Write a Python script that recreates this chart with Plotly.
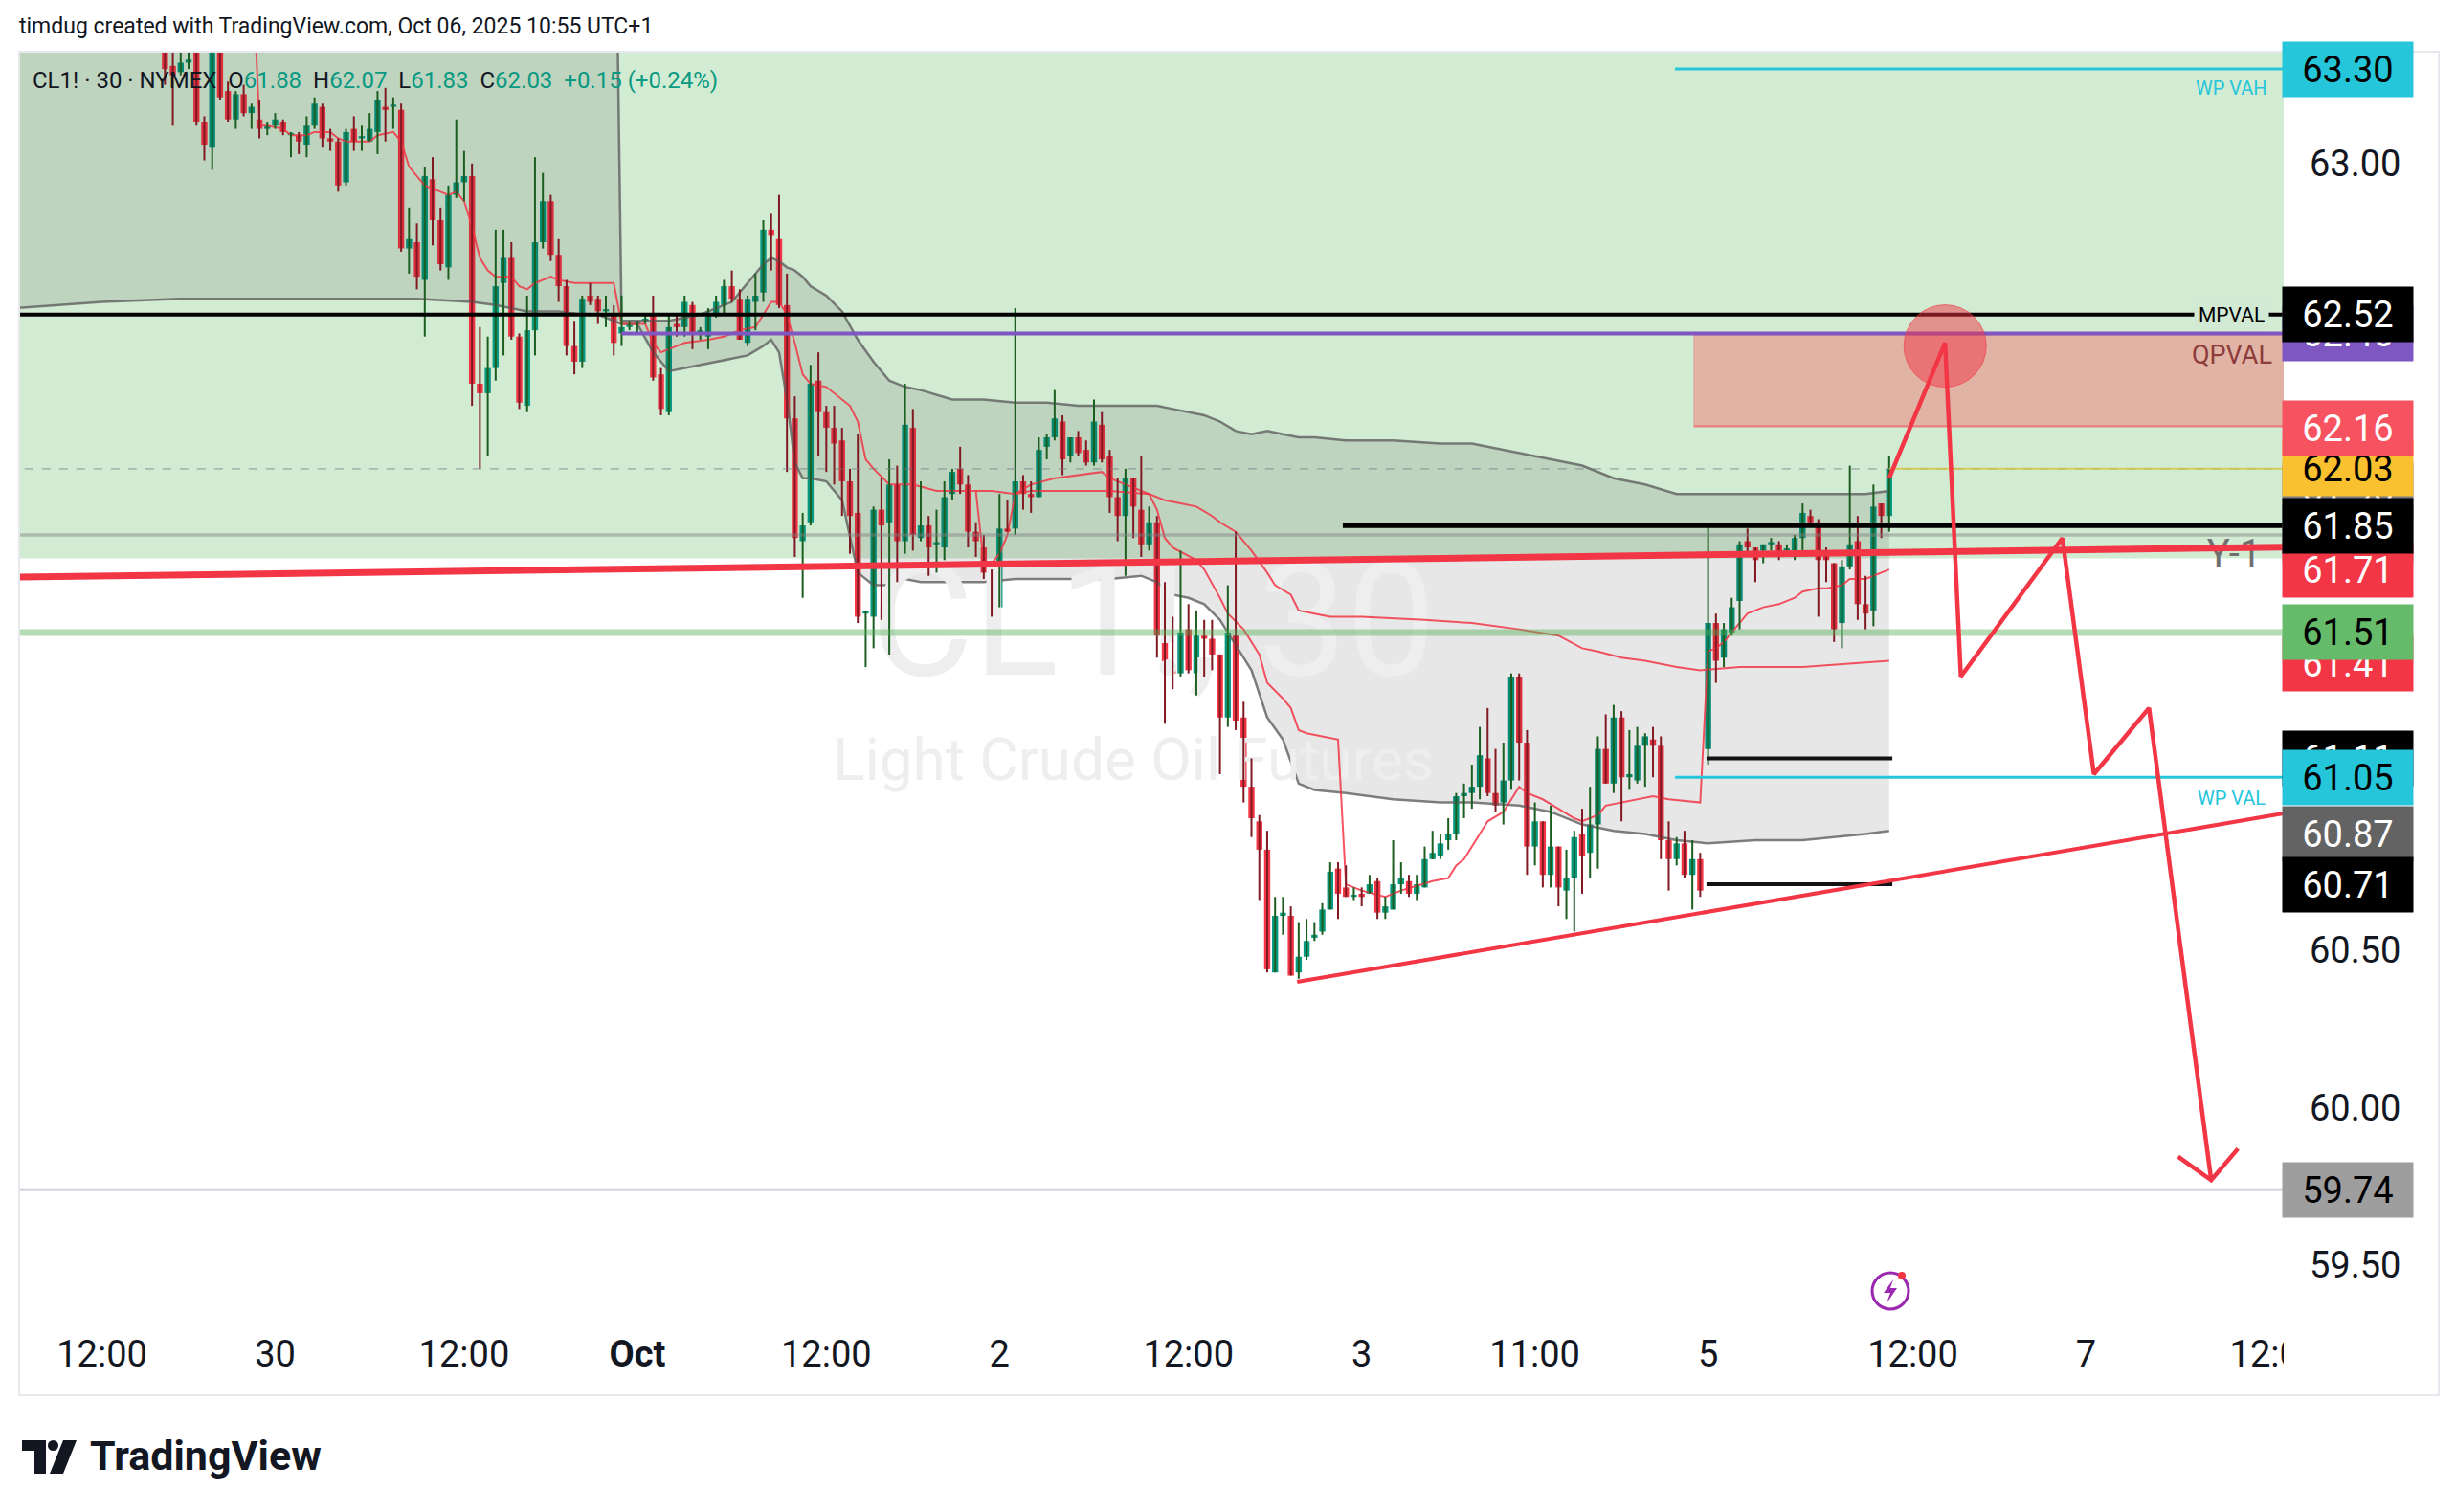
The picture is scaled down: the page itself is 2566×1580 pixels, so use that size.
import plotly.graph_objects as go

# ---- 30 min bars of CL1! (x = bar index, 0 = Sep 29 12:00 UTC+1) ----
first_bar = 8
opens = [63.50, 63.31, 63.29, 63.32, 63.40, 63.13, 63.05, 63.40, 63.23, 63.14,
         63.22, 63.16, 63.14, 63.11, 63.12, 63.13, 63.09, 63.09, 63.06, 63.12,
         63.18, 63.08, 63.07, 62.94, 63.11, 63.08, 63.07, 63.10, 63.18, 63.18,
         63.17, 62.73, 62.75, 62.63, 62.95, 62.82, 62.67, 62.90, 62.94, 62.96,
         62.30, 62.27, 62.35, 62.62, 62.70, 62.45, 62.23, 62.47, 62.75, 62.88,
         62.71, 62.61, 62.42, 62.37, 62.58, 62.57, 62.53, 62.52, 62.46, 62.48,
         62.49, 62.50, 62.52, 62.33, 62.21, 62.49, 62.48, 62.55, 62.46, 62.45,
         62.52, 62.55, 62.61, 62.57, 62.43, 62.56, 62.59, 62.79, 62.76, 62.55,
         62.19, 61.80, 61.86, 62.31, 62.21, 62.16, 62.12, 61.99, 61.89, 61.57,
         61.56, 61.90, 61.86, 61.98, 61.80, 62.16, 61.81, 61.85, 61.79, 61.78,
         61.95, 62.03, 61.98, 61.83, 61.78, 61.70, 61.59, 61.84, 61.84, 61.99,
         61.95, 61.94, 62.10, 62.13, 62.18, 62.07, 62.13, 62.09, 62.05, 62.17,
         62.07, 61.94, 61.88, 62.00, 61.90, 61.79, 61.86, 61.49, 61.39, 61.38,
         61.52, 61.38, 61.50, 61.49, 61.44, 61.24, 61.50, 61.24, 61.02, 60.91,
         60.82, 60.43, 60.61, 60.61, 60.43, 60.48, 60.54, 60.56, 60.63, 60.76,
         60.70, 60.67, 60.68, 60.68, 60.72, 60.62, 60.63, 60.71, 60.72, 60.68,
         60.70, 60.79, 60.80, 60.85, 60.87, 60.99, 61.00, 61.02, 61.11, 61.00,
         60.97, 61.04, 61.37, 61.16, 60.83, 60.91, 60.74, 60.83, 60.69, 60.73,
         60.87, 60.81, 60.90, 61.14, 61.03, 61.24, 61.05, 61.04, 61.15, 61.17,
         61.15, 60.85, 60.79, 60.84, 60.74, 60.79, 61.14, 61.54, 61.43, 61.51,
         61.61, 61.80, 61.78, 61.77, 61.79, 61.79, 61.77, 61.77, 61.81, 61.88,
         61.86, 61.76, 61.73, 61.54, 61.72, 61.80, 61.60, 61.58, 61.92, 61.88]
highs = [63.60, 63.45, 63.36, 63.36, 63.50, 63.15, 63.45, 63.48, 63.26, 63.23,
         63.25, 63.19, 63.20, 63.13, 63.16, 63.14, 63.10, 63.10, 63.15, 63.21,
         63.19, 63.11, 63.08, 63.11, 63.15, 63.12, 63.16, 63.23, 63.24, 63.21,
         63.19, 62.86, 62.81, 62.99, 63.02, 62.86, 62.93, 63.14, 63.04, 63.00,
         62.48, 62.45, 62.79, 62.79, 62.75, 62.46, 62.58, 63.02, 62.97, 62.90,
         62.76, 62.63, 62.50, 62.58, 62.62, 62.58, 62.58, 62.55, 62.58, 62.50,
         62.50, 62.52, 62.58, 62.35, 62.52, 62.52, 62.58, 62.56, 62.48, 62.54,
         62.58, 62.63, 62.66, 62.60, 62.58, 62.65, 62.82, 62.84, 62.90, 62.65,
         62.26, 61.89, 62.36, 62.40, 62.23, 62.23, 62.16, 62.03, 62.14, 61.58,
         61.91, 62.00, 62.06, 62.04, 62.30, 62.22, 61.99, 61.88, 61.90, 61.99,
         62.03, 62.10, 62.01, 61.86, 61.82, 61.71, 61.95, 61.93, 62.54, 62.01,
         61.99, 62.13, 62.14, 62.28, 62.20, 62.13, 62.15, 62.12, 62.25, 62.21,
         62.09, 62.00, 62.03, 62.00, 62.07, 61.91, 61.88, 61.67, 61.56, 61.77,
         61.60, 61.58, 61.55, 61.55, 61.44, 61.66, 61.83, 61.29, 61.11, 60.93,
         60.88, 60.67, 60.67, 60.64, 60.59, 60.60, 60.59, 60.65, 60.78, 60.78,
         60.77, 60.70, 60.70, 60.74, 60.73, 60.67, 60.85, 60.78, 60.74, 60.74,
         60.83, 60.88, 60.87, 60.92, 61.00, 61.03, 61.09, 61.21, 61.27, 61.14,
         61.16, 61.38, 61.38, 61.20, 60.97, 60.91, 60.96, 60.83, 60.82, 60.88,
         60.95, 61.02, 61.18, 61.25, 61.28, 61.26, 61.20, 61.21, 61.19, 61.21,
         61.18, 60.91, 60.86, 60.88, 60.85, 60.81, 61.85, 61.57, 61.54, 61.62,
         61.80, 61.84, 61.78, 61.79, 61.81, 61.80, 61.79, 61.82, 61.92, 61.90,
         61.87, 61.78, 61.73, 61.74, 62.04, 61.88, 61.69, 61.98, 61.92, 62.07]
lows = [63.25, 63.12, 63.28, 63.30, 63.12, 63.01, 62.98, 63.20, 63.13, 63.11,
        63.15, 63.11, 63.08, 63.09, 63.11, 63.09, 63.02, 63.03, 63.02, 63.11,
        63.05, 63.04, 62.91, 62.93, 63.04, 63.04, 63.07, 63.03, 63.07, 63.11,
        62.72, 62.65, 62.60, 62.45, 62.74, 62.66, 62.63, 62.89, 62.88, 62.23,
        62.03, 62.07, 62.31, 62.39, 62.44, 62.22, 62.21, 62.39, 62.73, 62.69,
        62.56, 62.39, 62.33, 62.35, 62.55, 62.49, 62.48, 62.39, 62.42, 62.47,
        62.46, 62.49, 62.31, 62.20, 62.20, 62.45, 62.45, 62.41, 62.44, 62.41,
        62.51, 62.52, 62.56, 62.44, 62.42, 62.47, 62.56, 62.66, 62.54, 62.02,
        61.75, 61.62, 61.85, 62.07, 62.02, 61.98, 61.88, 61.76, 61.54, 61.40,
        61.46, 61.55, 61.44, 61.67, 61.76, 61.77, 61.80, 61.69, 61.70, 61.74,
        61.93, 61.95, 61.78, 61.75, 61.68, 61.56, 61.59, 61.83, 61.82, 61.90,
        61.89, 61.94, 62.06, 62.12, 62.01, 62.05, 62.07, 62.04, 62.04, 62.05,
        61.89, 61.80, 61.69, 61.81, 61.75, 61.77, 61.43, 61.22, 61.33, 61.37,
        61.38, 61.31, 61.37, 61.39, 61.06, 61.21, 61.20, 60.97, 60.86, 60.66,
        60.43, 60.43, 60.55, 60.42, 60.41, 60.47, 60.53, 60.55, 60.63, 60.60,
        60.67, 60.66, 60.64, 60.68, 60.60, 60.60, 60.63, 60.68, 60.67, 60.66,
        60.70, 60.79, 60.79, 60.82, 60.85, 60.92, 60.95, 60.98, 60.99, 60.94,
        60.90, 61.01, 61.04, 60.74, 60.77, 60.70, 60.70, 60.64, 60.60, 60.56,
        60.68, 60.73, 60.76, 61.03, 61.00, 60.91, 61.01, 61.03, 61.02, 61.05,
        60.79, 60.69, 60.77, 60.73, 60.63, 60.67, 61.09, 61.35, 61.40, 61.50,
        61.52, 61.75, 61.67, 61.73, 61.77, 61.74, 61.76, 61.74, 61.77, 61.85,
        61.56, 61.67, 61.48, 61.46, 61.71, 61.55, 61.52, 61.53, 61.81, 61.83]
closes = [63.30, 63.28, 63.32, 63.33, 63.13, 63.06, 63.40, 63.21, 63.14, 63.22,
          63.16, 63.18, 63.11, 63.12, 63.14, 63.10, 63.09, 63.07, 63.12, 63.19,
          63.08, 63.07, 62.93, 63.10, 63.07, 63.08, 63.11, 63.20, 63.17, 63.18,
          62.73, 62.76, 62.64, 62.96, 62.82, 62.68, 62.90, 62.94, 62.96, 62.30,
          62.27, 62.35, 62.61, 62.70, 62.45, 62.24, 62.47, 62.75, 62.88, 62.71,
          62.61, 62.42, 62.37, 62.57, 62.56, 62.53, 62.53, 62.43, 62.48, 62.49,
          62.49, 62.50, 62.32, 62.22, 62.48, 62.48, 62.56, 62.46, 62.47, 62.52,
          62.56, 62.61, 62.57, 62.44, 62.57, 62.58, 62.79, 62.77, 62.55, 62.19,
          61.81, 61.85, 62.30, 62.21, 62.16, 62.11, 61.99, 61.88, 61.56, 61.57,
          61.90, 61.85, 61.98, 61.80, 62.17, 61.82, 61.85, 61.78, 61.79, 61.94,
          62.02, 61.98, 61.83, 61.80, 61.70, 61.58, 61.84, 61.83, 61.99, 61.95,
          61.94, 62.09, 62.13, 62.19, 62.06, 62.13, 62.08, 62.05, 62.18, 62.06,
          61.94, 61.88, 62.00, 61.91, 61.79, 61.86, 61.50, 61.39, 61.38, 61.51,
          61.39, 61.50, 61.49, 61.44, 61.24, 61.51, 61.23, 61.02, 60.92, 60.82,
          60.44, 60.61, 60.62, 60.42, 60.48, 60.53, 60.55, 60.63, 60.75, 60.68,
          60.67, 60.67, 60.67, 60.71, 60.62, 60.64, 60.71, 60.73, 60.68, 60.71,
          60.79, 60.81, 60.84, 60.87, 60.99, 61.00, 61.02, 61.12, 61.00, 60.96,
          61.04, 61.37, 61.16, 60.83, 60.91, 60.74, 60.83, 60.70, 60.73, 60.86,
          60.80, 60.90, 61.14, 61.03, 61.24, 61.05, 61.06, 61.15, 61.18, 61.15,
          60.85, 60.79, 60.84, 60.74, 60.79, 60.69, 61.54, 61.42, 61.52, 61.59,
          61.79, 61.78, 61.74, 61.79, 61.79, 61.75, 61.77, 61.81, 61.89, 61.86,
          61.74, 61.74, 61.52, 61.72, 61.79, 61.60, 61.57, 61.91, 61.88, 62.03]

# time axis
time_ticks = [0, 22, 46, 68, 92, 114, 138, 160, 182, 204, 230, 252, 276]
time_labels = ['12:00', '30', '12:00', '<b>Oct</b>', '12:00', '2', '12:00', '3',
               '11:00', '5', '12:00', '7', '12:00']
price_ticks = [59.5, 60.0, 60.5, 63.0]

# monthly VWAP bands (Sep then Oct anchor)
band_x = [-11, 0, 10, 20, 30, 40, 47, 50, 54, 58, 61, 63, 65,
          66, 68, 70, 72, 74, 76, 78, 80, 82, 84, 85, 86, 87, 88, 89, 90, 92, 94,
          96, 98, 100, 102, 104, 108, 112, 116, 120, 124, 128, 132, 134, 136, 138,
          140, 142, 144, 146, 148, 150, 152, 154, 158, 164, 170, 174, 180, 184,
          188, 192, 196, 200, 204, 210, 216, 220, 224, 227]
band_upper = [64.30, 64.30, 64.30, 64.30, 64.30, 64.30, 64.30, 64.30, 64.30, 64.30,
              64.30, 64.30, 64.30,
              62.50, 62.50, 62.50, 62.50, 62.51, 62.52, 62.54, 62.56, 62.62, 62.68,
              62.70, 62.69, 62.67, 62.66, 62.64, 62.61, 62.58, 62.53, 62.44, 62.37,
              62.31, 62.29, 62.28, 62.25, 62.25, 62.24, 62.24, 62.23, 62.23, 62.23,
              62.23, 62.22, 62.21, 62.20, 62.18, 62.15, 62.14, 62.15, 62.14, 62.13,
              62.13, 62.12, 62.12, 62.11, 62.11, 62.08, 62.06, 62.04, 62.00, 61.98,
              61.95, 61.95, 61.95, 61.95, 61.95, 61.95, 61.96]
band_lower = [62.54, 62.56, 62.57, 62.57, 62.57, 62.57, 62.56, 62.55, 62.53, 62.53,
              62.52, 62.52, 62.50,
              62.49, 62.49, 62.40, 62.34, 62.35, 62.36, 62.37, 62.38, 62.39, 62.42,
              62.44, 62.40, 62.25, 62.05, 62.00, 62.00, 61.99, 61.93, 61.70, 61.66,
              61.66, 61.68, 61.67, 61.67, 61.67, 61.68, 61.68, 61.68, 61.68, 61.69,
              61.67, 61.63, 61.62, 61.60, 61.55, 61.47, 61.39, 61.24, 61.17, 61.03,
              61.01, 61.00, 60.98, 60.97, 60.97, 60.96, 60.94, 60.90, 60.88, 60.87,
              60.85, 60.84, 60.85, 60.85, 60.86, 60.87, 60.88]

# session VWAP (resets at 23:00)
vwap_x = [19, 20, 21, 23, 24, 26, 27, 29, 30, 31, 34, 35, 37, 38, 39, 40, 41, 42,
          44, 45, 46, 47, 48, 49, 50, 52, 53, 54, 55, 56, 57, 58, 60, 62, 65,
          66, 69, 70, 71, 72, 74, 77, 79, 81, 83, 84, 85, 86, 87, 88, 89, 90, 92,
          95, 96, 97, 98, 100, 103, 106, 109, 111,
          112, 113, 114, 115, 116, 118, 128, 133, 134, 135, 136, 139, 140, 142,
          143, 145, 147, 148, 150, 151, 152, 153, 157,
          158, 160, 163, 165, 169, 171, 172, 173, 176, 178, 180, 181, 183, 185,
          187, 188, 190, 191, 193, 197, 199, 203,
          204, 205, 206, 207, 209, 211, 213, 215, 216, 218, 219, 221, 222, 224,
          225, 226, 227]
vwap_y = [63.70, 63.12, 63.12, 63.11, 63.09, 63.09, 63.10, 63.10, 63.08, 63.07,
          63.07, 63.09, 63.10, 63.07, 62.99, 62.96, 62.93, 62.92, 62.90, 62.91,
          62.88, 62.80, 62.70, 62.66, 62.64, 62.64, 62.61, 62.60, 62.62, 62.63,
          62.64, 62.63, 62.62, 62.62, 62.62,
          62.49, 62.49, 62.43, 62.40, 62.41, 62.43, 62.44, 62.45, 62.47, 62.48,
          62.52, 62.56, 62.56, 62.52, 62.43, 62.33, 62.30, 62.29, 62.23, 62.18,
          62.06, 62.03, 61.98, 61.98, 61.96, 61.96, 61.96,
          61.73, 61.73, 61.76, 61.82, 61.95, 61.96, 61.96, 61.95, 61.90, 61.81,
          61.78, 61.74, 61.71, 61.62, 61.57, 61.52, 61.44, 61.35, 61.30, 61.27,
          61.20, 61.19, 61.17,
          60.71, 60.69, 60.67, 60.69, 60.72, 60.73, 60.77, 60.79, 60.91, 60.94,
          61.02, 61.00, 60.98, 60.95, 60.92, 60.91, 60.93, 60.96, 60.97, 60.99,
          60.98, 60.97,
          61.45, 61.46, 61.48, 61.51, 61.57, 61.59, 61.60, 61.62, 61.64, 61.65,
          61.65, 61.66, 61.68, 61.68, 61.69, 61.70, 61.71]

# monthly VWAP (same as session VWAP until bar 111)
mvwap_x = [111, 113, 116, 118, 121, 124, 127, 128, 129, 133, 135, 137, 139, 141,
           142, 144, 146, 148, 149, 151, 152, 154, 156, 160, 168, 174, 180, 185,
           188, 190, 193, 196, 198, 200, 203, 208, 216, 222, 227]
mvwap_y = [61.96, 61.96, 61.95, 61.98, 62.00, 62.01, 62.02, 62.00, 61.99, 61.95,
           61.93, 61.92, 61.91, 61.88, 61.86, 61.83, 61.77, 61.70, 61.66, 61.63,
           61.58, 61.57, 61.56, 61.56, 61.55, 61.54, 61.52, 61.50, 61.46, 61.45,
           61.43, 61.42, 61.41, 61.40, 61.39, 61.40, 61.40, 61.41, 61.42]

# drawings
trend_x = [-10.5, 277.1]
trend_y = [61.686, 61.781]
support_x = [151.8, 277.1]
support_y = [60.40, 60.935]
proj_x = [227, 234.1, 236.1, 249.0, 253.0, 260.0, 267.9]
proj_y = [62.00, 62.43, 61.37, 61.81, 61.06, 61.27, 59.77]
arrow_x = [263.7, 267.9, 271.3]
arrow_y = [59.845, 59.77, 59.87]
target_x, target_y = 234.1, 62.42
zone_x0, zone_low, zone_high = 202.2, 62.165, 62.455
green_zone_low = 61.745

label_prices = [62.46, 62.52, 61.96, 61.82, 61.71, 61.85, 62.03, 62.16, 61.41,
                61.51, 61.11, 61.05, 60.87, 60.71, 59.74, 63.30]
label_styles = [('#7e57c2', 'white'), ('black', 'white'), ('#787b86', 'white'),
                ('#9598a1', 'white'), ('#f23645', 'white'), ('black', 'white'),
                ('#f9c02f', 'black'), ('#f7525f', 'white'), ('#f23645', 'white'),
                ('#66bb6a', 'black'), ('black', 'white'), ('#26c6da', 'black'),
                ('#636363', 'white'), ('black', 'white'), ('#9e9e9e', 'black'),
                ('#26c6da', 'black')]

# ---------------- figure ----------------
W, H = 2566, 1580
OFF = 8            # the page body margin
PL, PR, PT, PB = 20, 2386, 54, 1381
X_RANGE = [-10.52, 277.11]
Y_RANGE = [59.321, 63.355]
RIGHT = 290
FONT = 'Roboto, Arial, sans-serif'
INK = '#131722'


def px(x):
    return (x - PL) / (PR - PL)


def py(y):
    return (PB - y) / (PB - PT)


bar_px = (PR - PL) / (X_RANGE[1] - X_RANGE[0])
usd_px = (PB - PT) / (Y_RANGE[1] - Y_RANGE[0])

fig = go.Figure()

# band fill + lines
fig.add_trace(go.Scatter(x=band_x, y=band_lower, mode='lines',
                         line=dict(color='rgba(95,95,95,0.8)', width=2.5),
                         hoverinfo='skip'))
fig.add_trace(go.Scatter(x=band_x, y=band_upper, mode='lines', fill='tonexty',
                         fillcolor='rgba(0,0,0,0.095)',
                         line=dict(color='rgba(95,95,95,0.8)', width=2.5),
                         hoverinfo='skip'))

# watermark
fig.add_trace(go.Scatter(x=[133.5, 131.0], y=[61.50, 61.09], mode='text',
                         text=['CL1!, 30', 'Light Crude Oil Futures'],
                         textfont=dict(size=[165, 62], color='rgb(238,238,238)',
                                       family=FONT),
                         hoverinfo='skip'))

# VWAP lines
fig.add_trace(go.Scatter(x=vwap_x, y=vwap_y, mode='lines',
                         line=dict(color='rgba(242,54,69,0.85)', width=2),
                         hoverinfo='skip'))
fig.add_trace(go.Scatter(x=mvwap_x, y=mvwap_y, mode='lines',
                         line=dict(color='rgba(242,54,69,0.85)', width=2),
                         hoverinfo='skip'))

# candles: wicks then bodies
bar_x = list(range(first_bar, first_bar + len(opens)))
for is_up, wick_col, body_col in [(True, '#1b5e20', '#089981'),
                                  (False, '#801922', '#f23645')]:
    wx, wy, bx, bb, bh = [], [], [], [], []
    for x, o, h, l, c in zip(bar_x, opens, highs, lows, closes):
        if (c >= o) != is_up:
            continue
        wx += [x, x, None]
        wy += [l, h, None]
        bx.append(x)
        bb.append(min(o, c))
        bh.append(max(abs(c - o), 0.007))
    fig.add_trace(go.Scatter(x=wx, y=wy, mode='lines',
                             line=dict(color=wick_col, width=2),
                             hoverinfo='skip'))
    fig.add_trace(go.Bar(x=bx, y=bh, base=bb, width=0.78,
                         marker=dict(color=body_col, line=dict(width=0)),
                         hoverinfo='skip'))


def hline(price, x0, color, width, x1=RIGHT, dash=None):
    fig.add_trace(go.Scatter(x=[x0, x1], y=[price, price], mode='lines',
                             line=dict(color=color, width=width, dash=dash),
                             hoverinfo='skip'))


hline(62.03, -12, 'rgba(120,123,134,0.45)', 1.6, dash='dash')
hline(61.82, -12, 'rgba(128,128,128,0.45)', 3.5)
hline(61.51, -12, 'rgba(76,175,80,0.42)', 7)
hline(59.74, -12, '#d1d4dc', 3)
hline(62.52, -12, 'black', 4)
hline(62.46, 66, '#7e57c2', 4)
hline(zone_low, zone_x0, 'rgba(242,54,69,0.4)', 2.5)
hline(61.85, 157.6, 'black', 5.5)
hline(62.03, 227, 'rgba(214,196,60,0.8)', 2)
hline(63.30, 199.8, '#26c6da', 3)
hline(61.05, 199.8, '#26c6da', 3)
hline(61.11, 203.8, '#131313', 4, x1=227.4)
hline(60.71, 203.8, '#131313', 4, x1=227.4)

# Y-1 text sits under the red trend line
fig.add_trace(go.Scatter(x=[270.8], y=[61.75], mode='text', text=['Y-1'],
                         textfont=dict(size=40, color='#6f6f6f', family=FONT),
                         hoverinfo='skip'))

fig.add_trace(go.Scatter(x=trend_x, y=trend_y, mode='lines',
                         line=dict(color='#f23645', width=7), hoverinfo='skip'))
fig.add_trace(go.Scatter(x=support_x, y=support_y, mode='lines',
                         line=dict(color='#f23645', width=4), hoverinfo='skip'))
fig.add_trace(go.Scatter(x=proj_x, y=proj_y, mode='lines',
                         line=dict(color='#f23645', width=4.5), hoverinfo='skip'))
fig.add_trace(go.Scatter(x=arrow_x, y=arrow_y, mode='lines',
                         line=dict(color='#f23645', width=4.5), hoverinfo='skip'))

rx = 43 / bar_px
ry = 43 / usd_px
shapes = [
    dict(type='rect', xref='x', yref='y', x0=-12, x1=RIGHT, y0=green_zone_low,
         y1=64.5, fillcolor='rgba(76,175,80,0.25)', line=dict(width=0),
         layer='below'),
    dict(type='rect', xref='x', yref='y', x0=zone_x0, x1=RIGHT, y0=zone_low,
         y1=zone_high, fillcolor='rgba(250,90,90,0.38)',
         line=dict(color='rgba(242,54,69,0.25)', width=1), layer='below'),
    dict(type='circle', xref='x', yref='y', x0=target_x - rx, x1=target_x + rx,
         y0=target_y - ry, y1=target_y + ry, fillcolor='rgba(242,54,69,0.5)',
         line=dict(color='rgba(242,54,69,0.6)', width=1), layer='above'),
    # hide the clipped part of the last time label
    dict(type='rect', xref='paper', yref='paper', x0=1.0, x1=1.075,
         y0=py(1456), y1=py(1383), fillcolor='white', line=dict(width=0),
         layer='above'),
    # chart frame
    dict(type='rect', xref='paper', yref='paper', x0=px(20), x1=px(2548),
         y0=py(1458), y1=py(54), line=dict(color='#e6e8ee', width=2),
         layer='above'),
    # lightning icon
    dict(type='circle', xref='paper', yref='paper', x0=px(1956), x1=px(1994),
         y0=py(1368), y1=py(1330), line=dict(color='#9c27b0', width=3),
         layer='above'),
    dict(type='path', xref='paper', yref='paper', layer='above',
         path='M {} {} L {} {} L {} {} L {} {} L {} {} L {} {} Z'.format(
             px(1978), py(1337), px(1968), py(1351), px(1975), py(1351),
             px(1971), py(1362), px(1982), py(1346), px(1975), py(1346)),
         fillcolor='#9c27b0', line=dict(width=0)),
    dict(type='circle', xref='paper', yref='paper', x0=px(1983), x1=px(1991),
         y0=py(1337), y1=py(1329), fillcolor='#f23645', line=dict(width=0),
         layer='above'),
    # TradingView logo
    dict(type='path', xref='paper', yref='paper', layer='above',
         path='M {} {} L {} {} L {} {} L {} {} L {} {} L {} {} Z'.format(
             px(23), py(1505), px(48), py(1505), px(48), py(1540),
             px(36), py(1540), px(36), py(1516), px(23), py(1516)),
         fillcolor=INK, line=dict(width=0)),
    dict(type='circle', xref='paper', yref='paper', x0=px(50), x1=px(61),
         y0=py(1516), y1=py(1505), fillcolor=INK, line=dict(width=0),
         layer='above'),
    dict(type='path', xref='paper', yref='paper', layer='above',
         path='M {} {} L {} {} L {} {} L {} {} Z'.format(
             px(66), py(1505), px(80), py(1505), px(66), py(1540),
             px(52), py(1540)),
         fillcolor=INK, line=dict(width=0)),
]

annotations = []
for price, (bg, fg) in zip(label_prices, label_styles):
    annotations.append(dict(
        xref='paper', yref='y', x=1, y=price, xanchor='left', yanchor='middle',
        xshift=-2, text='{:.2f}'.format(price), showarrow=False,
        font=dict(size=38, color=fg, family=FONT), bgcolor=bg,
        width=130, height=51, borderpad=3, align='center', valign='middle'))

annotations += [
    dict(xref='x', yref='y', x=270.5, y=62.52, text='MPVAL', showarrow=False,
         font=dict(size=21, color='black', family=FONT),
         bgcolor='rgb(210,234,212)', borderpad=4),
    dict(xref='x', yref='y', x=270.5, y=62.39, text='QPVAL', showarrow=False,
         font=dict(size=27, color='#8e3b3b', family=FONT)),
    dict(xref='x', yref='y', x=270.5, y=63.24, text='WP VAH', showarrow=False,
         font=dict(size=20, color='#26c6da', family=FONT)),
    dict(xref='x', yref='y', x=270.5, y=60.985, text='WP VAL', showarrow=False,
         font=dict(size=20, color='#26c6da', family=FONT)),
    dict(xref='paper', yref='paper', x=px(18), y=py(28), xanchor='left',
         yanchor='middle', showarrow=False,
         text='timdug created with TradingView.com, Oct 06, 2025 10:55 UTC+1',
         font=dict(size=23, color=INK, family=FONT)),
    dict(xref='paper', yref='paper', x=px(32), y=py(84), xanchor='left',
         yanchor='middle', showarrow=False,
         text=('CL1! · 30 · NYMEX&nbsp;&nbsp;O<span style="color:#089981">{:.2f}</span>'
               '&nbsp;&nbsp;H<span style="color:#089981">{:.2f}</span>'
               '&nbsp;&nbsp;L<span style="color:#089981">{:.2f}</span>'
               '&nbsp;&nbsp;C<span style="color:#089981">{:.2f}</span>'
               '&nbsp;&nbsp;<span style="color:#089981">{:+.2f} ({:+.2f}%)</span>').format(
             opens[-1], highs[-1], lows[-1], closes[-1],
             closes[-1] - closes[-2], (closes[-1] - closes[-2]) / closes[-2] * 100),
         font=dict(size=24, color=INK, family=FONT)),
    dict(xref='paper', yref='paper', x=px(92), y=py(1521), xanchor='left',
         yanchor='middle', showarrow=False, text='<b>TradingView</b>',
         font=dict(size=43, color=INK, family=FONT)),
]

fig.update_layout(
    width=W - OFF, height=H - OFF, autosize=False,
    margin=dict(l=PL - OFF, r=W - PR, t=PT - OFF, b=H - PB, pad=0),
    paper_bgcolor='white', plot_bgcolor='white',
    showlegend=False, hovermode=False, barmode='overlay',
    shapes=shapes, annotations=annotations,
    xaxis=dict(range=X_RANGE, showgrid=False, zeroline=False, showline=False,
               tickmode='array', tickvals=time_ticks, ticktext=time_labels,
               ticks='', ticklabelstandoff=8,
               tickfont=dict(size=38, color=INK, family=FONT)),
    yaxis=dict(range=Y_RANGE, side='right', showgrid=False, zeroline=False,
               showline=False, tickmode='array', tickvals=price_ticks,
               ticktext=['{:.2f}'.format(v) for v in price_ticks],
               ticks='', ticklabelstandoff=26,
               tickfont=dict(size=38, color=INK, family=FONT)),
)

fig.write_html('out.html', config={'displayModeBar': False})
